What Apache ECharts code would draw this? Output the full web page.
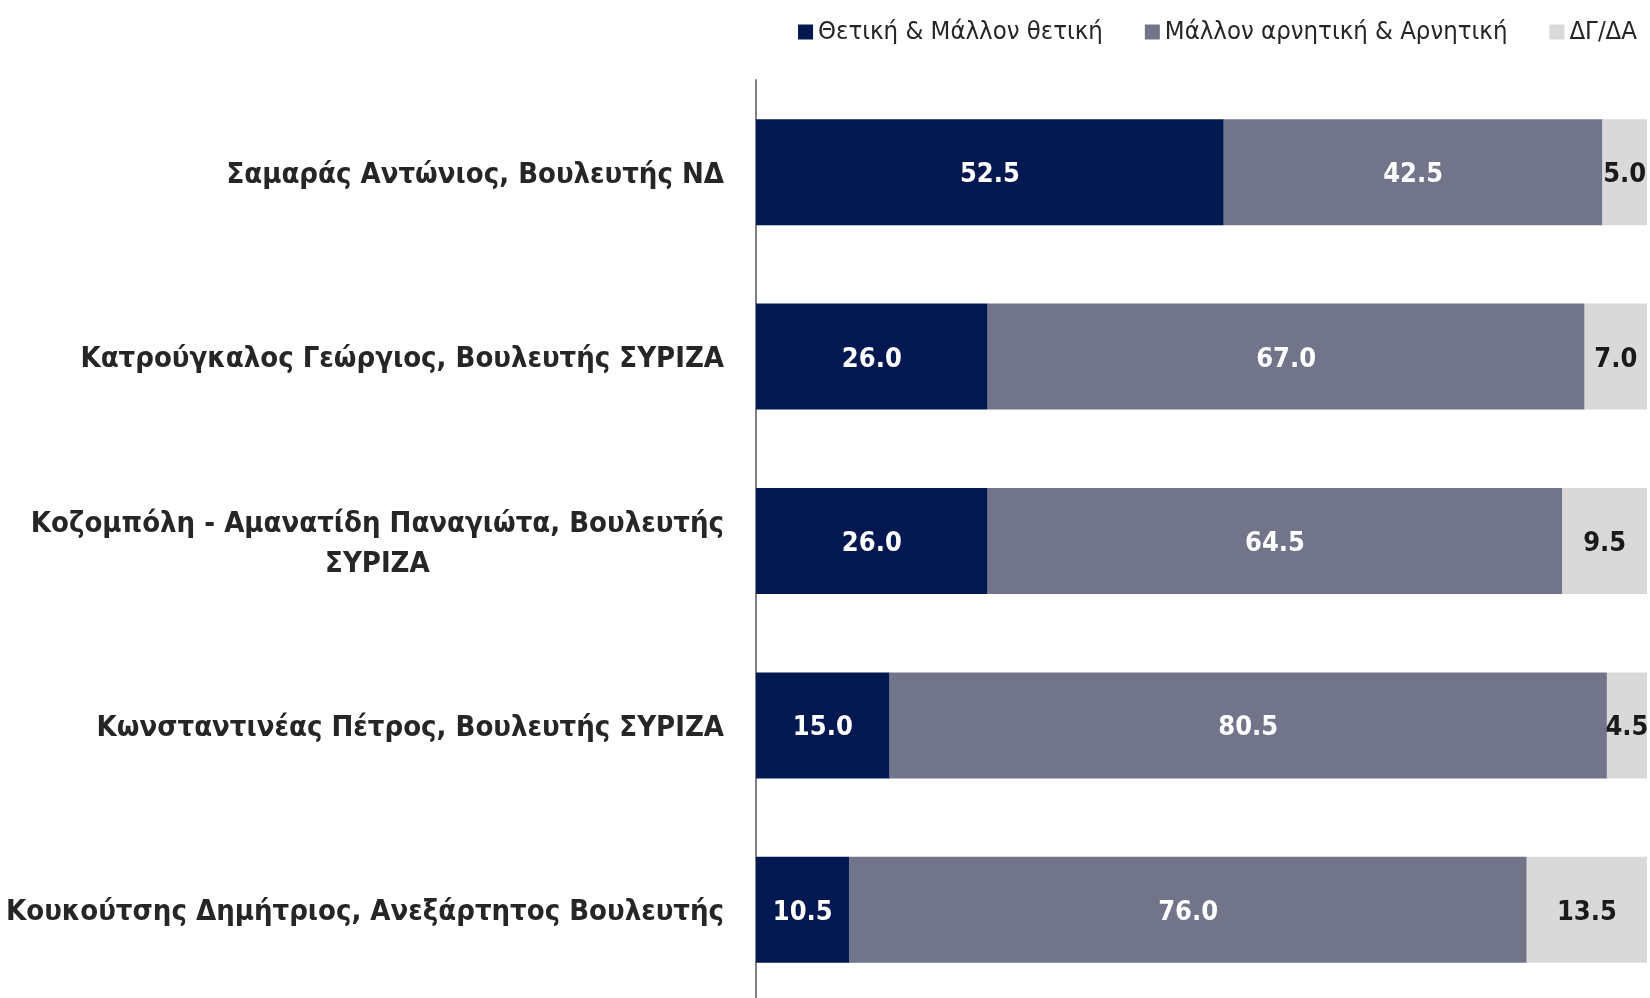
<!DOCTYPE html>
<html><head><meta charset="utf-8">
<script src="https://cdn.jsdelivr.net/npm/echarts@6/dist/echarts.min.js"></script>
<style>html,body{margin:0;padding:0;background:#fff}#c{width:1650px;height:998px}</style>
</head><body><div id="c"></div>
<script>
const categories = [
  "Σαμαράς Αντώνιος, Βουλευτής ΝΔ",
  "Κατρούγκαλος Γεώργιος, Βουλευτής ΣΥΡΙΖΑ",
  "Κοζομπόλη - Αμανατίδη Παναγιώτα, Βουλευτής\nΣΥΡΙΖΑ",
  "Κωνσταντινέας Πέτρος, Βουλευτής ΣΥΡΙΖΑ",
  "Κουκούτσης Δημήτριος, Ανεξάρτητος Βουλευτής"
];
const seriesNames = ["Θετική & Μάλλον θετική", "Μάλλον αρνητική & Αρνητική", "ΔΓ/ΔΑ"];
const positive = [52.5, 26.0, 26.0, 15.0, 10.5];
const negative = [42.5, 67.0, 64.5, 80.5, 76.0];
const dkna = [5.0, 7.0, 9.5, 4.5, 13.5];

const FONT = '"Liberation Sans Narrow", "Arial Narrow", "DejaVu Sans Condensed", sans-serif';
const colors = ['#011850', '#727489', '#d9d9d9'];
const labelColors = ['#ffffff', '#ffffff', '#1a1a1a'];
const datasets = [positive, negative, dkna];

const chart = echarts.init(document.getElementById('c'));
chart.setOption({
  animation: false,
  backgroundColor: '#ffffff',
  legend: {
    top: 14, right: 8,
    itemWidth: 15, itemHeight: 15, itemGap: 42, icon: 'rect',
    textStyle: { fontFamily: FONT, fontSize: 25.5, color: '#262626' },
    data: seriesNames
  },
  grid: { left: 756, right: 3, top: 80, height: 922, containLabel: false, outerBoundsMode: 'none' },
  xAxis: { type: 'value', min: 0, max: 100, show: false },
  yAxis: {
    type: 'category', inverse: true, data: categories,
    axisLine: { show: true, lineStyle: { color: '#808080', width: 2 } },
    axisTick: { show: false },
    axisLabel: {
      margin: 32, color: '#262626', fontFamily: FONT, fontSize: 29, fontWeight: 'bold',
      lineHeight: 40,
      formatter: v => v.split('\n').map(s => '{c|' + s + '}').join('\n'),
      rich: { c: { align: 'center', fontFamily: FONT, fontSize: 29, fontWeight: 'bold', color: '#262626', lineHeight: 40, padding: [6, 0, 0, 0] } }
    }
  },
  series: datasets.map((d, i) => ({
    name: seriesNames[i], type: 'bar', stack: 'total', data: d, barWidth: 106,
    itemStyle: { color: colors[i] },
    label: {
      show: true, position: 'inside', offset: [0, 3], formatter: p => p.value.toFixed(1),
      fontFamily: FONT, fontSize: 27, fontWeight: 'bold', color: labelColors[i]
    }
  }))
});
</script></body></html>
